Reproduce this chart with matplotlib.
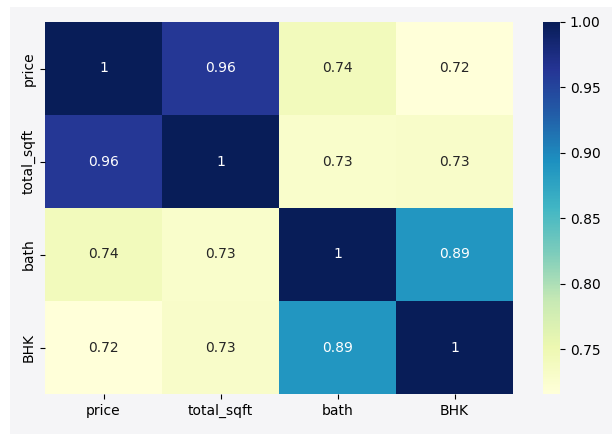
import matplotlib
matplotlib.use("Agg")
import matplotlib.pyplot as plt
import seaborn as sns
import numpy as np
import pandas as pd
from matplotlib.patches import Rectangle

labels = ["price", "total_sqft", "bath", "BHK"]
row_price = [1.0, 0.962, 0.742, 0.716]
row_sqft = [0.962, 1.0, 0.729, 0.731]
row_bath = [0.742, 0.729, 1.0, 0.889]
row_bhk = [0.716, 0.731, 0.889, 1.0]

corr = pd.DataFrame([row_price, row_sqft, row_bath, row_bhk],
                    index=labels, columns=labels)

fig = plt.figure(figsize=(6.12, 4.34), dpi=100, facecolor="white")
bg = "#f5f5f7"
fig.patches.append(Rectangle((10 / 612, 0), 1, 1 - 7 / 434,
                             transform=fig.transFigure, facecolor=bg,
                             edgecolor="none", zorder=-10))

ax = fig.add_axes([45 / 612, 1 - 394 / 434, (513 - 45) / 612, (394 - 22) / 434])
cax = fig.add_axes([543 / 612, 1 - 394 / 434, (560 - 543) / 612, (394 - 22) / 434])

sns.heatmap(corr, annot=True, cmap="YlGnBu", ax=ax, cbar_ax=cax,
            annot_kws={"fontsize": 10})
ax.tick_params(labelsize=10)
cax.tick_params(labelsize=10)
cax.set_yticks([0.75, 0.80, 0.85, 0.90, 0.95, 1.00])
cax.set_yticklabels(["0.75", "0.80", "0.85", "0.90", "0.95", "1.00"])
for spine in cax.spines.values():
    spine.set_visible(False)

fig.savefig("out.png", dpi=100, facecolor=fig.get_facecolor())
